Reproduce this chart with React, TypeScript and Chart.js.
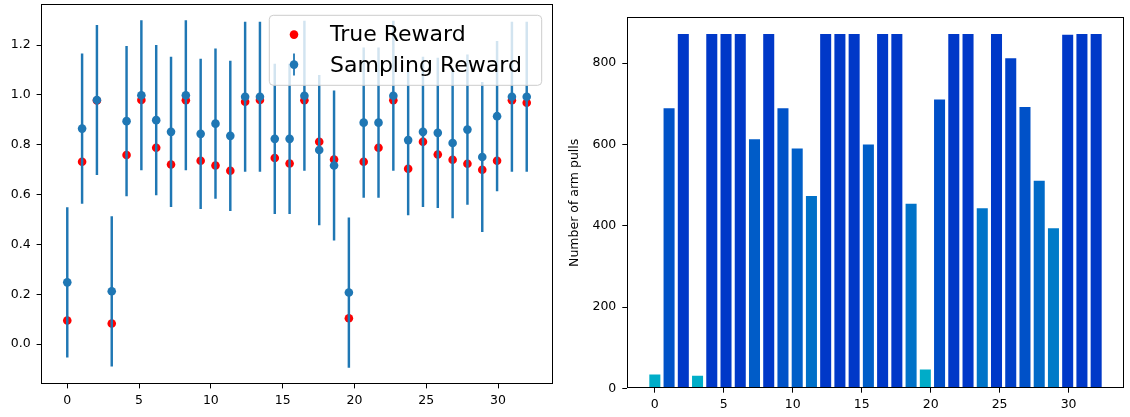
import React, { useEffect, useRef } from 'react';
import { Chart, registerables } from 'chart.js';

Chart.register(...registerables);

// Arm positions (32 arms spread over 0..32)
const armPositions = [
  0, 1.032, 2.065, 3.097, 4.129, 5.161, 6.194, 7.226, 8.258, 9.29, 10.323, 11.355,
  12.387, 13.419, 14.452, 15.484, 16.516, 17.548, 18.581, 19.613, 20.645, 21.677,
  22.71, 23.742, 24.774, 25.806, 26.839, 27.871, 28.903, 29.935, 30.968, 32.0,
];

const trueReward = [
  0.095, 0.732, 0.978, 0.083, 0.759, 0.98, 0.788, 0.721, 0.979, 0.736, 0.717, 0.696,
  0.973, 0.98, 0.747, 0.725, 0.979, 0.812, 0.741, 0.104, 0.732, 0.788, 0.979, 0.704,
  0.812, 0.761, 0.74, 0.724, 0.7, 0.736, 0.979, 0.969,
];

const samplingReward = [
  0.248, 0.865, 0.98, 0.212, 0.895, 0.999, 0.899, 0.852, 0.999, 0.844, 0.885, 0.836,
  0.993, 0.993, 0.824, 0.824, 0.997, 0.779, 0.717, 0.207, 0.889, 0.889, 0.997, 0.819,
  0.852, 0.848, 0.807, 0.861, 0.751, 0.915, 0.993, 0.993,
];

const samplingError = [
  0.3, 0.3, 0.3, 0.3, 0.3, 0.3, 0.3, 0.3, 0.3, 0.3, 0.3, 0.3, 0.3, 0.3, 0.3, 0.3,
  0.3, 0.3, 0.3, 0.3, 0.3, 0.3, 0.3, 0.3, 0.3, 0.3, 0.3, 0.3, 0.3, 0.3, 0.3, 0.3,
];

const armPulls = [
  34, 689, 872, 31, 872, 872, 872, 613, 872, 689, 590, 473, 872, 872, 872, 600,
  872, 872, 454, 46, 711, 872, 872, 443, 872, 812, 692, 511, 394, 870, 872, 872,
];

const xTickValues = [0, 5, 10, 15, 20, 25, 30];
const rewardTickValues = [0, 0.2, 0.4, 0.6, 0.8, 1.0, 1.2];
const pullsTickValues = [0, 200, 400, 600, 800];
const legendLabels = ['True Reward', 'Sampling Reward'];
const pullsAxisTitle = 'Number of arm pulls';

const FAMILY = "'DejaVu Sans', sans-serif";
const tickFont = { family: FAMILY, size: 12.5 };
const BLUE = '#1f77b4';

function pullColor(v: number) {
  const g = Math.round(178 - 0.14 * v);
  return `rgb(0,${g},200)`;
}

const spinesPlugin = {
  id: 'spines',
  afterDatasetsDraw(chart: any) {
    const { ctx, chartArea } = chart;
    ctx.save();
    ctx.strokeStyle = '#000';
    ctx.lineWidth = 1;
    const l = Math.round(chartArea.left) + 0.5;
    const t = Math.round(chartArea.top) + 0.5;
    const r = Math.round(chartArea.right) - 0.5;
    const b = Math.round(chartArea.bottom) - 0.5;
    ctx.strokeRect(l, t, r - l, b - t);
    ctx.restore();
  },
};

const rewardLegendPlugin = {
  id: 'rewardLegend',
  afterDraw(chart: any) {
    const { ctx, chartArea } = chart;
    const w = 272.4;
    const h = 70;
    const left = chartArea.right - 283.7;
    const top = chartArea.top + 11;
    const rad = 4;
    ctx.save();
    ctx.beginPath();
    ctx.moveTo(left + rad, top);
    ctx.lineTo(left + w - rad, top);
    ctx.quadraticCurveTo(left + w, top, left + w, top + rad);
    ctx.lineTo(left + w, top + h - rad);
    ctx.quadraticCurveTo(left + w, top + h, left + w - rad, top + h);
    ctx.lineTo(left + rad, top + h);
    ctx.quadraticCurveTo(left, top + h, left, top + h - rad);
    ctx.lineTo(left, top + rad);
    ctx.quadraticCurveTo(left, top, left + rad, top);
    ctx.closePath();
    ctx.fillStyle = 'rgba(255,255,255,0.8)';
    ctx.fill();
    ctx.strokeStyle = '#cccccc';
    ctx.lineWidth = 1;
    ctx.stroke();

    const mx = left + 24.7;
    ctx.fillStyle = '#ff0000';
    ctx.beginPath();
    ctx.arc(mx, top + 19.3, 4.3, 0, Math.PI * 2);
    ctx.fill();
    ctx.strokeStyle = BLUE;
    ctx.lineWidth = 1.8;
    ctx.beginPath();
    ctx.moveTo(mx, top + 49.3 - 11);
    ctx.lineTo(mx, top + 49.3 + 11);
    ctx.stroke();
    ctx.fillStyle = BLUE;
    ctx.beginPath();
    ctx.arc(mx, top + 49.3, 4.3, 0, Math.PI * 2);
    ctx.fill();

    ctx.fillStyle = '#000';
    ctx.font = `22px ${FAMILY}`;
    ctx.textAlign = 'left';
    ctx.textBaseline = 'alphabetic';
    ctx.fillText(legendLabels[0], left + 60.7, top + 25.3);
    ctx.fillText(legendLabels[1], left + 60.7, top + 56.7);
    ctx.restore();
  },
};

function fixSize(prop: 'width' | 'height', size: number) {
  return (s: any) => {
    s[prop] = size;
    s.paddingTop = 0;
    s.paddingBottom = 0;
    s.paddingLeft = 0;
    s.paddingRight = 0;
  };
}

function axisCommon(tickValues: number[], fmt: (v: number) => string, padding: number) {
  return {
    type: 'linear' as const,
    offset: false,
    afterBuildTicks: (s: any) => {
      s.ticks = tickValues.map((v) => ({ value: v }));
    },
    grid: { drawOnChartArea: false, drawTicks: true, tickLength: 4.4, tickColor: '#000', tickWidth: 1, offset: false },
    border: { display: false },
    ticks: {
      font: tickFont,
      color: '#000',
      padding,
      maxRotation: 0,
      autoSkip: false,
      callback: (v: any) => fmt(Number(v)),
    },
  };
}

export default function App() {
  const leftRef = useRef<HTMLCanvasElement | null>(null);
  const rightRef = useRef<HTMLCanvasElement | null>(null);

  useEffect(() => {
    if (!leftRef.current || !rightRef.current) return;

    const left = new Chart(leftRef.current, {
      type: 'scatter',
      data: {
        datasets: [
          {
            type: 'scatter',
            label: legendLabels[0],
            data: armPositions.map((x, i) => ({ x, y: trueReward[i] })),
            backgroundColor: '#ff0000',
            borderWidth: 0,
            pointRadius: 4.3,
            order: 3,
          } as any,
          {
            type: 'bar',
            label: 'error',
            data: armPositions.map((x, i) => ({
              x,
              y: [samplingReward[i] - samplingError[i], samplingReward[i] + samplingError[i]],
            })),
            backgroundColor: BLUE,
            borderWidth: 0,
            barThickness: 1.8,
            order: 2,
          } as any,
          {
            type: 'scatter',
            label: legendLabels[1],
            data: armPositions.map((x, i) => ({ x, y: samplingReward[i] })),
            backgroundColor: BLUE,
            borderWidth: 0,
            pointRadius: 4.3,
            order: 1,
          } as any,
        ],
      },
      options: {
        animation: false,
        responsive: false,
        devicePixelRatio: 1,
        layout: { padding: { left: 0, right: 7, top: 3, bottom: 0 } },
        plugins: { legend: { display: false }, tooltip: { enabled: false } },
        scales: {
          x: {
            ...axisCommon(xTickValues, (v) => String(v), 5),
            min: -1.83,
            max: 33.83,
            afterFit: fixSize('height', 33),
          },
          y: {
            ...axisCommon(rewardTickValues, (v) => v.toFixed(1), 6),
            min: -0.16,
            max: 1.364,
            afterFit: fixSize('width', 41),
          },
        } as any,
      },
      plugins: [spinesPlugin, rewardLegendPlugin],
    });

    const right = new Chart(rightRef.current, {
      type: 'bar',
      data: {
        datasets: [
          {
            label: pullsAxisTitle,
            data: armPositions.map((x, i) => ({ x, y: armPulls[i] })),
            backgroundColor: armPulls.map((v) => pullColor(v)),
            borderWidth: 0,
            categoryPercentage: 1,
            barPercentage: 0.775,
          } as any,
        ],
      },
      options: {
        animation: false,
        responsive: false,
        devicePixelRatio: 1,
        layout: { padding: { left: 0, right: 5.7, top: 17.3, bottom: 0 } },
        plugins: { legend: { display: false }, tooltip: { enabled: false } },
        scales: {
          x: {
            ...axisCommon(xTickValues, (v) => String(v), 5),
            min: -2.04,
            max: 34.04,
            afterFit: fixSize('height', 28.7),
          },
          y: {
            ...axisCommon(pullsTickValues, (v) => String(v), 6),
            min: 0,
            max: 913,
            title: {
              display: true,
              text: pullsAxisTitle,
              font: { family: FAMILY, size: 12.5 },
              color: '#000',
              padding: { top: 7.5, bottom: 0 },
            },
            afterFit: fixSize('width', 66.7),
          },
        } as any,
      },
      plugins: [spinesPlugin],
    });

    return () => {
      left.destroy();
      right.destroy();
    };
  }, []);

  return (
    <div style={{ position: 'absolute', left: 0, top: 0, width: 1130, height: 417, background: '#fff' }}>
      <canvas
        ref={leftRef}
        width={560}
        height={417}
        style={{ position: 'absolute', left: 0, top: 0, width: 560, height: 417 }}
      />
      <canvas
        ref={rightRef}
        width={570}
        height={417}
        style={{ position: 'absolute', left: 560, top: 0, width: 570, height: 417 }}
      />
    </div>
  );
}
